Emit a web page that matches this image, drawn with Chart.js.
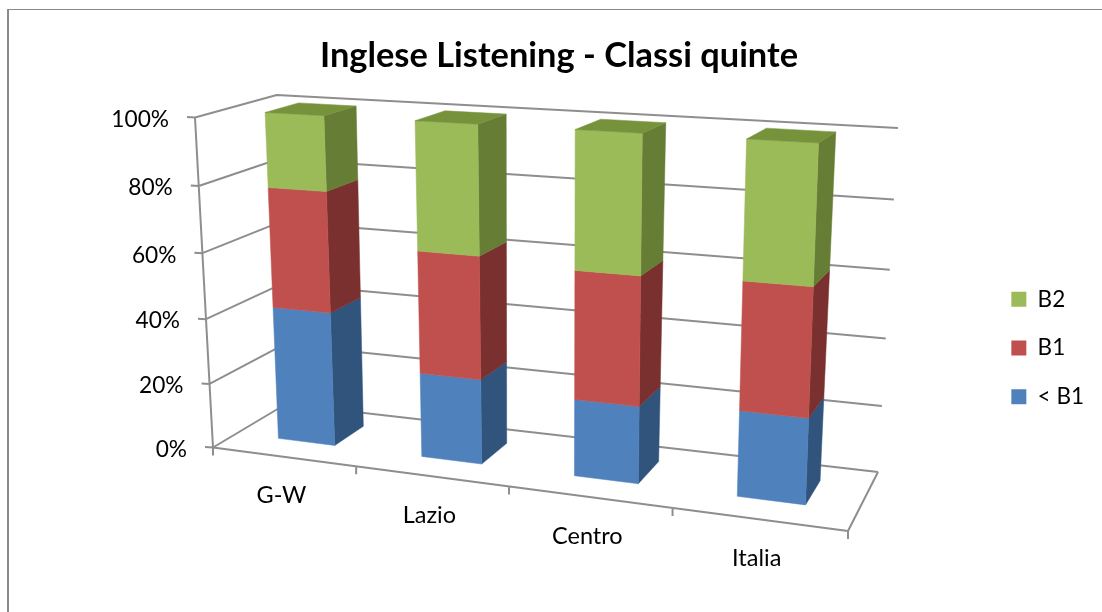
<!DOCTYPE html>
<html>
<head>
<meta charset="utf-8">
<style>
html,body{margin:0;padding:0;width:1102px;height:612px;overflow:hidden;background:#fff}
#frame{position:absolute;left:7px;top:9px;width:1200px;height:700px;border-left:2px solid #8a8a8a;border-top:1px solid #8a8a8a}
canvas{display:block}
</style>
<script src="https://cdn.jsdelivr.net/npm/chart.js@4"></script>
</head>
<body>
<div id="frame"><canvas id="c" width="1100" height="676"></canvas></div>
<script>
const categories = ["G-W", "Lazio", "Centro", "Italia"];
const titleText = "Inglese Listening - Classi quinte";
const below = [41.3, 25.7, 22.9, 24.9];
const b1 = [36.5, 36.6, 37.6, 36.6];
const b2 = [22.2, 37.7, 39.5, 38.5];
const seriesNames = ["< B1", "B1", "B2"];
const fronts = ["#4f81bd", "#c0504d", "#9bbb59"];
const sides = ["#31547c", "#7a302e", "#667d36"];
const tops = ["#3c6596", "#9a3f3c", "#76933c"];
const gridColor = "#8e8e8e";
const textFont = "Lato";

// Perspective box of the plot, in page pixels: TL, TR, BR, BL
const frontQuad = [[195,117.5],[862,155],[848,531],[213,447.5]];
const backQuad  = [[276.7,95],[898,128],[878,472],[286,404]];
const barDepth = [0.33, 0.75];
const pageOffset = [9, 10];

function homography(q){
  const [p0,p1,p2,p3] = q;
  const dx1=p1[0]-p2[0], dx2=p3[0]-p2[0], sx=p0[0]-p1[0]+p2[0]-p3[0];
  const dy1=p1[1]-p2[1], dy2=p3[1]-p2[1], sy=p0[1]-p1[1]+p2[1]-p3[1];
  const det=dx1*dy2-dx2*dy1;
  const g=(sx*dy2-dx2*sy)/det, h=(dx1*sy-sx*dy1)/det;
  const a=p1[0]-p0[0]+g*p1[0], b=p3[0]-p0[0]+h*p3[0], c=p0[0];
  const d=p1[1]-p0[1]+g*p1[1], e=p3[1]-p0[1]+h*p3[1], f=p0[1];
  return (u,t)=>{const W=g*u+h*t+1;return [(a*u+b*t+c)/W,(d*u+e*t+f)/W];};
}
const Hf=homography(frontQuad), Hb=homography(backQuad);
// u: along the categories, v: up the value axis, w: depth
function project(u,v,w){
  const A=Hf(u,1-v), B=Hb(u,1-v);
  return [A[0]+(B[0]-A[0])*w, A[1]+(B[1]-A[1])*w];
}
function poly(ctx,pts,fill){
  ctx.beginPath();
  pts.forEach((p,i)=>i?ctx.lineTo(p[0],p[1]):ctx.moveTo(p[0],p[1]));
  ctx.closePath();
  ctx.fillStyle=fill;ctx.fill();
  ctx.strokeStyle=fill;ctx.lineWidth=0.5;ctx.stroke();
}
function seg(ctx,a,b){ctx.moveTo(a[0],a[1]);ctx.lineTo(b[0],b[1]);}

const perspectivePlugin={
  id:"perspective",
  beforeDatasetsDraw(chart){
    const ctx=chart.ctx, area=chart.chartArea, xs=chart.scales.x, ys=chart.scales.y;
    const U=px=>(px-area.left)/area.width;
    const V=py=>(area.bottom-py)/area.height;
    ctx.save();
    ctx.translate(-pageOffset[0],-pageOffset[1]);
    // walls and grid
    ctx.strokeStyle=gridColor;ctx.lineWidth=2;ctx.lineJoin="round";
    ctx.beginPath();
    ys.ticks.forEach(t=>{
      const v=V(ys.getPixelForValue(t.value));
      const f=project(0,v,0), m=project(0,v,1), r=project(1,v,1);
      ctx.moveTo(f[0]-8,f[1]-0.4);ctx.lineTo(f[0],f[1]);ctx.lineTo(m[0],m[1]);ctx.lineTo(r[0],r[1]);
    });
    seg(ctx,project(0,0,0),project(0,1,0));
    const br=project(1,0,1), fr=project(1,0,0), fl=project(0,0,0);
    ctx.moveTo(fl[0],fl[1]);ctx.lineTo(fr[0],fr[1]);ctx.lineTo(br[0],br[1]);
    for(let i=0;i<=categories.length;i++){
      const p=project(i/categories.length,0,0);
      ctx.moveTo(p[0],p[1]);ctx.lineTo(p[0],p[1]+8);
    }
    ctx.stroke();
    // boxes
    const last=chart.data.datasets.length-1;
    categories.forEach((_,i)=>{
      chart.data.datasets.forEach((ds,d)=>{
        const el=chart.getDatasetMeta(d).data[i];
        const u0=U(el.x-el.width/2), u1=U(el.x+el.width/2);
        const v0=V(el.base), v1=V(el.y);
        const [w0,w1]=barDepth;
        const a=project(u0,v0,w0), b=project(u1,v0,w0), c=project(u1,v1,w0), e=project(u0,v1,w0);
        const b2p=project(u1,v0,w1), c2=project(u1,v1,w1), e2=project(u0,v1,w1);
        poly(ctx,[b,b2p,c2,c],sides[d]);
        poly(ctx,[a,b,c,e],fronts[d]);
        if(d===last) poly(ctx,[e,c,c2,e2],tops[d]);
      });
    });
    // axis labels
    ctx.fillStyle="#000";
    ctx.textBaseline="middle";
    ctx.font="22.7px "+textFont;
    ctx.textAlign="right";
    ys.ticks.forEach(t=>{
      const p=project(0,V(ys.getPixelForValue(t.value)),0);
      ctx.fillText(t.label,p[0]-26,p[1]+2);
    });
    ctx.font="23.5px "+textFont;
    ctx.textAlign="center";
    categories.forEach((name,i)=>{
      const p=project(U(xs.getPixelForTick(i)),0,0);
      ctx.fillText(xs.getLabelForValue(i),p[0]-2,p[1]+39);
    });
    ctx.restore();
    return false;
  }
};

new Chart(document.getElementById("c"),{
  type:"bar",
  plugins:[perspectivePlugin],
  data:{
    labels:categories,
    datasets:[
      {label:seriesNames[0],data:below,backgroundColor:fronts[0]},
      {label:seriesNames[1],data:b1,backgroundColor:fronts[1]},
      {label:seriesNames[2],data:b2,backgroundColor:fronts[2]}
    ]
  },
  options:{
    responsive:false,
    animation:false,
    layout:{padding:{left:15,right:15,top:0,bottom:0}},
    datasets:{bar:{barPercentage:0.4,categoryPercentage:1}},
    scales:{
      x:{stacked:true,display:false},
      y:{stacked:true,display:false,min:0,max:100,ticks:{stepSize:20,callback:v=>v+"%"}}
    },
    plugins:{
      tooltip:{enabled:false},
      title:{display:true,text:titleText,color:"#000",padding:{top:25,bottom:10},font:{family:textFont,size:34.4,weight:"bold"}},
      legend:{
        position:"right",reverse:true,
        labels:{color:"#000",boxWidth:15,boxHeight:15,padding:26.2,font:{family:textFont,size:22.5}}
      }
    }
  }
});
</script>
</body>
</html>
